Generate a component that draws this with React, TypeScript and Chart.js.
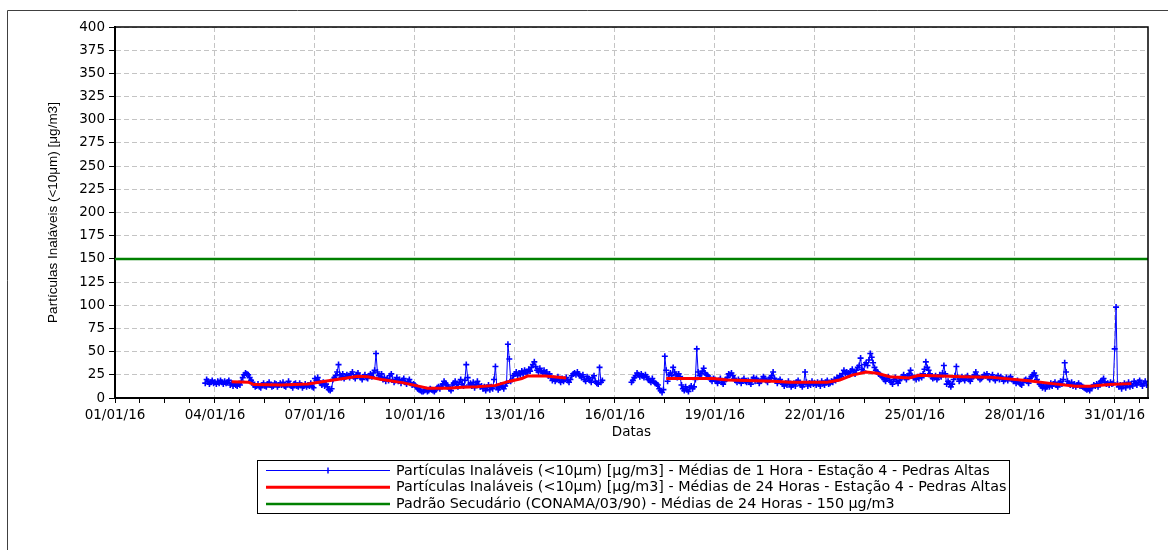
import React, { useEffect, useRef } from "react";
import { Chart, registerables } from "chart.js";

Chart.register(...registerables);

const N = null;

// Hourly PM10 values (µg/m3), one array per day of January 2016 (hours 0..23)
const d03 = [N, N, N, N, N, N, N, N, N, N, N, N, N, N, N, N, N, 16, 20, 18, 15, 17, 19, 16];
const d04 = [17, 15, 18, 16, 19, 17, 15, 18, 16, 17, 19, 14, 16, 13, 15, 14, 13, 15, 14, 18, 22, 25, 27, 26];
const d05 = [25, 22, 19, 17, 14, 12, 13, 15, 12, 11, 14, 16, 13, 12, 15, 17, 14, 12, 13, 16, 15, 12, 14, 16];
const d06 = [14, 17, 13, 12, 15, 18, 14, 13, 11, 15, 16, 13, 12, 16, 14, 11, 13, 15, 12, 14, 13, 16, 12, 11];
const d07 = [21, 19, 22, 18, 16, 14, 17, 13, 15, 12, 9, 8, 10, 20, 22, 24, 28, 36, 25, 22, 26, 21, 23, 25];
const d08 = [24, 22, 26, 28, 23, 21, 25, 27, 24, 22, 20, 23, 25, 22, 21, 24, 26, 23, 27, 30, 48, 28, 24, 22];
const d09 = [26, 20, 22, 18, 21, 19, 24, 26, 20, 17, 19, 22, 18, 20, 16, 19, 21, 17, 15, 18, 20, 16, 14, 15];
const d10 = [14, 12, 10, 9, 8, 7, 7, 8, 9, 7, 8, 10, 9, 8, 7, 9, 11, 12, 10, 13, 15, 18, 16, 14];
const d11 = [12, 10, 8, 14, 16, 18, 15, 12, 17, 20, 15, 13, 19, 36, 22, 14, 16, 13, 17, 11, 15, 18, 14, 12];
const d12 = [13, 10, 12, 8, 11, 14, 9, 12, 10, 20, 34, 12, 9, 11, 14, 12, 10, 13, 16, 58, 42, 18, 20, 24];
const d13 = [26, 28, 24, 27, 25, 29, 26, 30, 28, 27, 31, 29, 33, 36, 39, 34, 30, 28, 32, 29, 27, 30, 26, 28];
const d14 = [24, 26, 22, 19, 21, 18, 20, 23, 19, 17, 21, 18, 20, 22, 19, 17, 20, 24, 26, 27, 25, 28, 26, 24];
const d15 = [22, 25, 20, 18, 23, 21, 19, 17, 22, 24, 18, 16, 15, 33, 17, 19, N, N, N, N, N, N, N, N];
const d16 = [N, N, N, N, N, N, N, N, N, N, N, N, 17, 19, 22, 24, 27, 25, 23, 26, 24, 22, 25, 23];
const d17 = [20, 19, 17, 21, 18, 16, 15, 14, 10, 8, 6, 9, 45, 30, 18, 25, 27, 24, 33, 28, 25, 22, 26, 23];
const d18 = [14, 10, 8, 12, 9, 7, 11, 13, 10, 12, 20, 53, 28, 24, 26, 29, 32, 27, 25, 24, 22, 20, 18, 21];
const d19 = [20, 18, 16, 19, 21, 17, 15, 18, 20, 22, 26, 25, 27, 24, 21, 19, 17, 20, 18, 16, 19, 21, 18, 17];
const d20 = [19, 17, 15, 20, 22, 18, 21, 19, 16, 18, 20, 23, 21, 19, 17, 20, 22, 24, 28, 21, 19, 16, 18, 20];
const d21 = [17, 15, 13, 16, 14, 18, 15, 12, 14, 16, 13, 17, 19, 16, 14, 12, 15, 28, 17, 13, 16, 14, 18, 15];
const d22 = [16, 14, 17, 15, 13, 18, 16, 14, 17, 19, 15, 16, 18, 17, 20, 19, 22, 21, 24, 23, 26, 30, 27, 28];
const d23 = [27, 25, 29, 31, 28, 26, 30, 33, 35, 43, 31, 29, 36, 38, 35, 41, 48, 44, 38, 33, 30, 28, 26, 25];
const d24 = [24, 22, 20, 18, 21, 23, 19, 17, 15, 20, 22, 18, 16, 19, 21, 23, 25, 22, 20, 24, 26, 30, 24, 22];
const d25 = [22, 20, 23, 21, 24, 22, 26, 31, 39, 33, 30, 26, 23, 21, 22, 24, 20, 22, 25, 23, 27, 35, 26, 15];
const d26 = [18, 16, 12, 15, 20, 24, 34, 22, 18, 20, 23, 21, 19, 22, 24, 20, 18, 21, 23, 25, 28, 24, 22, 20];
const d27 = [21, 23, 25, 24, 26, 22, 20, 23, 25, 21, 19, 22, 24, 20, 23, 21, 18, 20, 22, 19, 21, 23, 20, 18];
const d28 = [18, 16, 19, 17, 15, 14, 17, 19, 20, 18, 16, 21, 23, 25, 27, 24, 20, 17, 15, 13, 11, 14, 10, 12];
const d29 = [14, 12, 16, 13, 15, 17, 14, 12, 16, 18, 15, 20, 38, 28, 18, 16, 14, 17, 13, 15, 12, 14, 16, 13];
const d30 = [13, 12, 11, 10, 9, 10, 8, 11, 12, 14, 13, 15, 12, 16, 18, 19, 21, 17, 15, 16, 14, 17, 15, 16];
const d31 = [53, 98, 15, 12, 14, 10, 13, 16, 11, 14, 17, 12, 15, 13, 18, 16, 14, 17, 19, 15, 13, 16, 18, 14];

const hourlyDays: [number, (number | null)[]][] = [
  [3, d03], [4, d04], [5, d05], [6, d06], [7, d07], [8, d08], [9, d09], [10, d10],
  [11, d11], [12, d12], [13, d13], [14, d14], [15, d15], [16, d16], [17, d17], [18, d18],
  [19, d19], [20, d20], [21, d21], [22, d22], [23, d23], [24, d24], [25, d25], [26, d26],
  [27, d27], [28, d28], [29, d29], [30, d30], [31, d31],
];

// 24-hour moving average (hours counted from 01/01/16 00:00)
const avg1Hours = [84, 96, 100, 120, 139, 149, 161, 175, 182, 192, 207, 221, 225, 240, 250, 261, 274, 283, 293, 297, 310, 325];
const avg1Values = [17.5, 17, 14.5, 14, 15, 17.5, 20.3, 23.5, 23, 20, 16.6, 12, 10.5, 10.5, 11.5, 12.2, 13.6, 17.6, 21, 23.6, 23.6, 21.5];
const avg2Hours = [397, 431, 441, 474, 486, 513, 522, 531, 541, 549, 558, 572, 579, 610, 630, 658, 675, 692, 702, 716, 732];
const avg2Values = [21, 21, 19.5, 18, 17, 17, 19.4, 24.7, 28, 26.6, 23, 21.5, 24.5, 23, 22.5, 18.5, 15.5, 12.8, 12.6, 14.5, 15.5];

const standardValue = 150;
const rangeHours = [0, 744];

const xTickLabels = ["01/01/16", "04/01/16", "07/01/16", "10/01/16", "13/01/16", "16/01/16", "19/01/16", "22/01/16", "25/01/16", "28/01/16", "31/01/16"];

const legendLabels = [
  "Partículas Inaláveis (<10μm) [μg/m3] - Médias de 1 Hora - Estação 4 - Pedras Altas",
  "Partículas Inaláveis (<10μm) [μg/m3] - Médias de 24 Horas - Estação 4 - Pedras Altas",
  "Padrão Secudário (CONAMA/03/90) - Médias de 24 Horas - 150 μg/m3",
];
const yTitle = "Partículas Inaláveis (<10μm) [μg/m3]";
const xTitle = "Datas";

const TICK_FONT = { family: "'DejaVu Sans', sans-serif", size: 13.5 };

const framePlugin = {
  id: "framePlugin",
  beforeDraw(chart: any) {
    const ctx = chart.ctx;
    ctx.save();
    ctx.fillStyle = "#ffffff";
    ctx.fillRect(0, 0, chart.width, chart.height);
    ctx.strokeStyle = "#404040";
    ctx.lineWidth = 1;
    ctx.beginPath();
    ctx.moveTo(7.5, chart.height);
    ctx.lineTo(7.5, 10.5);
    ctx.lineTo(chart.width, 10.5);
    ctx.stroke();
    ctx.restore();
  },
  afterDraw(chart: any) {
    const ctx = chart.ctx;
    const a = chart.chartArea;
    ctx.save();
    ctx.strokeStyle = "#000";
    ctx.lineWidth = 1.5;
    ctx.beginPath();
    ctx.moveTo(a.left, a.top);
    ctx.lineTo(a.right, a.top);
    ctx.lineTo(a.right, a.bottom);
    ctx.stroke();

    // legend box
    const bx = 257.5, by = 460.5, bw = 752, bh = 53;
    ctx.lineWidth = 1;
    ctx.strokeStyle = "#000";
    ctx.strokeRect(bx, by, bw, bh);
    const rows = [
      { color: "#0000ff", width: 1, marker: true },
      { color: "#ff0000", width: 3, marker: false },
      { color: "#008000", width: 2.5, marker: false },
    ];
    ctx.font = "14.3px 'DejaVu Sans', sans-serif";
    ctx.textBaseline = "middle";
    ctx.textAlign = "left";
    rows.forEach((r, i) => {
      const y = 470.5 + i * 16.75;
      ctx.strokeStyle = r.color;
      ctx.lineWidth = r.width;
      ctx.beginPath();
      ctx.moveTo(266, y);
      ctx.lineTo(390, y);
      ctx.stroke();
      if (r.marker) {
        ctx.lineWidth = 1.5;
        ctx.beginPath();
        ctx.moveTo(328, y - 3);
        ctx.lineTo(328, y + 3);
        ctx.stroke();
      }
      ctx.fillStyle = "#000";
      ctx.fillText(legendLabels[i], 396, y + 0.5);
    });
    ctx.restore();
  },
};

export default function App() {
  const ref = useRef<HTMLCanvasElement>(null);

  useEffect(() => {
    const blue: { x: number; y: number | null }[] = [];
    hourlyDays.forEach(([day, vals]) => {
      vals.forEach((v, h) => blue.push({ x: (day - 1) * 24 + h, y: v }));
    });
    const red: { x: number; y: number | null }[] = [];
    avg1Hours.forEach((h, i) => red.push({ x: h, y: avg1Values[i] }));
    red.push({ x: 360, y: null });
    avg2Hours.forEach((h, i) => red.push({ x: h, y: avg2Values[i] }));
    const green = rangeHours.map((h) => ({ x: h, y: standardValue }));

    const chart = new Chart(ref.current as HTMLCanvasElement, {
      type: "line",
      data: {
        datasets: [
          {
            label: legendLabels[1],
            data: red as any,
            borderColor: "#ff0000",
            borderWidth: 3,
            pointRadius: 0,
            spanGaps: false,
            order: 0,
          },
          {
            label: legendLabels[0],
            data: blue as any,
            borderColor: "#0000ff",
            borderWidth: 1,
            pointStyle: "cross",
            pointRadius: 3,
            pointBorderWidth: 1.6,
            pointBorderColor: "#0000ff",
            pointBackgroundColor: "#0000ff",
            spanGaps: false,
            order: 1,
          },
          {
            label: legendLabels[2],
            data: green as any,
            borderColor: "#008000",
            borderWidth: 2.5,
            pointRadius: 0,
            order: 2,
          },
        ],
      },
      options: {
        animation: false,
        responsive: false,
        events: [],
        layout: { padding: { left: 41, right: 20, top: 27, bottom: 105 } },
        plugins: { legend: { display: false }, tooltip: { enabled: false } },
        elements: { line: { tension: 0 } },
        scales: {
          x: {
            type: "linear",
            min: rangeHours[0],
            max: rangeHours[1],
            afterFit: (s: any) => {
              s.height = 47;
            },
            ticks: {
              stepSize: 18,
              includeBounds: false,
              autoSkip: false,
              maxRotation: 0,
              minRotation: 0,
              padding: 4,
              color: "#000",
              font: TICK_FONT,
              callback: (v: any) => {
                const n = Math.round(Number(v));
                return n % 72 === 0 ? xTickLabels[n / 72] : "";
              },
            },
            grid: {
              color: (c: any) =>
                c.tick && Math.round(c.tick.value) % 72 === 0 && c.tick.value !== 0 ? "#c4c4c4" : "rgba(0,0,0,0)",
              tickColor: "#000",
              tickLength: 5,
              lineWidth: 1,
            },
            border: { display: true, color: "#000", width: 2, dash: [5, 3] },
            title: {
              display: true,
              text: xTitle,
              color: "#000",
              font: { family: "'DejaVu Sans', sans-serif", size: 13.5 },
              padding: { top: 4, bottom: 4 },
            },
          },
          y: {
            type: "linear",
            min: 0,
            max: 400,
            afterFit: (s: any) => {
              s.width = 74;
            },
            ticks: {
              stepSize: 25,
              padding: 4,
              color: "#000",
              font: TICK_FONT,
            },
            grid: {
              color: (c: any) => (c.tick && c.tick.value !== 0 ? "#c4c4c4" : "rgba(0,0,0,0)"),
              tickColor: "#000",
              tickLength: 6,
              lineWidth: 1,
            },
            border: { display: true, color: "#000", width: 2, dash: [5, 3] },
            title: {
              display: true,
              text: yTitle,
              color: "#000",
              font: { family: "'Liberation Sans', Arial, sans-serif", size: 13.5 },
              padding: { top: 4, bottom: 4 },
            },
          },
        },
      },
      plugins: [framePlugin],
    });
    return () => chart.destroy();
  }, []);

  return (
    <div style={{ position: "absolute", left: 0, top: 0, width: 1168, height: 550, background: "#fff" }}>
      <canvas ref={ref} width={1168} height={550} style={{ width: 1168, height: 550, display: "block" }} />
    </div>
  );
}
